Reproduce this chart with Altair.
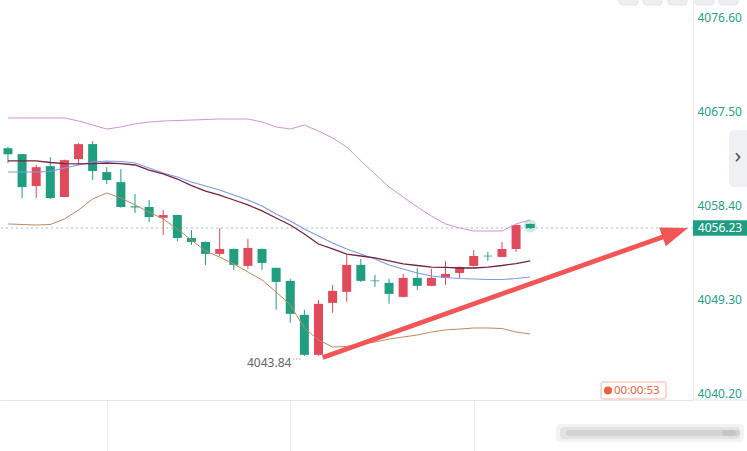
import altair as alt
import numpy as np
import pandas as pd

# ---- one-minute bars ----
opens = [4063.96, 4063.38, 4060.29, 4062.22, 4059.23, 4062.90, 4064.35, 4061.64, 4060.67, 4058.33,
         4058.26, 4057.22, 4057.49, 4055.26, 4054.88, 4053.72, 4054.20, 4052.56, 4054.20, 4052.37,
         4051.11, 4047.82, 4043.95, 4048.98, 4050.05, 4052.66, 4051.15, 4050.92, 4049.56, 4051.40,
         4050.63, 4051.40, 4051.88, 4052.56, 4053.55, 4053.43, 4054.20, 4056.62]
highs = [4064.10, 4063.40, 4062.32, 4063.09, 4062.85, 4064.44, 4064.64, 4062.12, 4061.93, 4059.52,
         4058.94, 4057.97, 4057.52, 4056.04, 4054.92, 4056.23, 4054.25, 4055.17, 4054.25, 4052.40,
         4051.30, 4048.31, 4049.27, 4050.72, 4053.62, 4053.23, 4051.69, 4051.30, 4051.79, 4052.37,
         4052.27, 4053.04, 4052.50, 4054.10, 4053.91, 4054.88, 4056.55, 4056.65]
lows = [4062.51, 4059.13, 4059.13, 4059.03, 4059.20, 4062.32, 4060.87, 4060.48, 4058.20, 4057.68,
        4056.81, 4055.55, 4054.97, 4054.59, 4052.66, 4053.52, 4052.17, 4052.27, 4052.17, 4048.31,
        4047.05, 4043.84, 4043.86, 4048.02, 4049.08, 4051.00, 4050.53, 4048.89, 4049.50, 4050.24,
        4050.60, 4050.72, 4051.40, 4052.50, 4053.04, 4053.40, 4053.91, 4056.13]
closes = [4063.38, 4060.19, 4062.12, 4059.13, 4062.80, 4064.35, 4061.74, 4060.87, 4058.26, 4058.22,
          4057.29, 4057.48, 4055.26, 4054.88, 4053.72, 4054.20, 4052.66, 4054.30, 4052.85, 4051.01,
          4047.92, 4043.95, 4048.89, 4050.14, 4052.66, 4051.11, 4051.08, 4049.85, 4051.40, 4050.63,
          4051.40, 4051.79, 4052.46, 4053.52, 4053.48, 4054.20, 4056.52, 4056.23]

# ---- indicator lines ----
band_upper = [4066.88, 4066.88, 4066.88, 4066.88, 4066.88, 4066.59, 4066.20, 4065.81, 4066.01, 4066.30,
              4066.49, 4066.59, 4066.64, 4066.68, 4066.73, 4066.78, 4066.78, 4066.78, 4066.49, 4066.01,
              4065.81, 4066.20, 4065.62, 4064.94, 4064.07, 4062.72, 4061.46, 4060.20, 4059.23, 4058.26,
              4057.39, 4056.62, 4056.23, 4055.94, 4055.94, 4055.94, 4056.62, 4057.00]
ma_blue = [4061.65, 4061.65, 4061.65, 4061.70, 4062.04, 4062.33, 4062.62, 4062.72, 4062.67, 4062.52,
           4062.04, 4061.55, 4061.17, 4060.68, 4060.30, 4059.91, 4059.42, 4058.94, 4058.36, 4057.59,
           4056.91, 4056.13, 4055.46, 4054.78, 4054.20, 4053.71, 4053.23, 4052.65, 4052.26, 4051.87,
           4051.58, 4051.44, 4051.34, 4051.29, 4051.24, 4051.24, 4051.34, 4051.49]
ma_maroon = [4062.72, 4062.72, 4062.72, 4062.57, 4062.47, 4062.43, 4062.47, 4062.52, 4062.47, 4062.33,
             4061.84, 4061.46, 4060.97, 4060.34, 4059.81, 4059.42, 4058.94, 4058.46, 4057.88, 4057.20,
             4056.52, 4055.65, 4054.68, 4054.20, 4053.71, 4053.52, 4053.33, 4053.04, 4052.75, 4052.60,
             4052.45, 4052.41, 4052.36, 4052.36, 4052.45, 4052.60, 4052.79, 4053.04]
band_lower = [4056.62, 4056.57, 4056.52, 4056.57, 4057.10, 4057.97, 4059.04, 4059.62, 4059.13, 4058.46,
              4057.78, 4057.10, 4056.13, 4055.07, 4054.00, 4053.42, 4052.75, 4051.97, 4051.20, 4050.03,
              4048.78, 4046.55, 4045.39, 4044.71, 4044.76, 4045.00, 4045.19, 4045.48, 4045.68, 4045.87,
              4046.16, 4046.36, 4046.45, 4046.55, 4046.55, 4046.50, 4046.16, 4045.97]

price_ticks = [4040.20, 4049.30, 4058.40, 4067.50, 4076.60]
time_ticks = [7, 20, 33]
arrow_start = (22.3, 4043.70)
arrow_tip = (48.18, 4056.23)
timer_text = "00:00:53"

# ---- layout ----
PLOT_W, PLOT_H = 693, 400
X_DOM = [-0.21, 48.18]
Y_DOM = [4039.58, 4078.30]
UP, DOWN = "#e04a5b", "#1f9e80"
AXIS_TXT = "#27a086"
FONT = "Noto Sans"

xs = alt.Scale(domain=X_DOM, nice=False, zero=False)
ys = alt.Scale(domain=Y_DOM, nice=False, zero=False)
x_axis = alt.Axis(values=time_ticks, labels=False, title=None, grid=False, ticks=True,
                  tickSize=51, tickColor="#eeeeee", domainColor="#e6e6e6")
y_axis = alt.Axis(orient="right", values=price_ticks, format=".2f", title=None, grid=False,
                  ticks=False, labelColor=AXIS_TXT, labelFont=FONT, labelFontSize=12,
                  labelPadding=4, domainColor="#ebebeb")


def X(field):
    return alt.X(field, type="quantitative", scale=xs, axis=x_axis)


def Y(field):
    return alt.Y(field, type="quantitative", scale=ys, axis=y_axis)


bars = pd.DataFrame({"i": np.arange(len(opens)), "open": opens, "high": highs,
                     "low": lows, "close": closes})
bars["dir"] = np.where(bars["close"] > bars["open"], "up", "down")
color = alt.Color("dir:N", scale=alt.Scale(domain=["up", "down"], range=[UP, DOWN]), legend=None)

wicks = alt.Chart(bars).mark_rule(strokeWidth=1, clip=True).encode(
    x=X("i"), y=Y("low"), y2="high", color=color)
bodies = alt.Chart(bars).mark_bar(size=9, clip=True).encode(
    x=X("i"), y=Y("open"), y2="close", color=color)

# glow around the live bar
last = bars.tail(1).assign(mid=lambda d: (d["open"] + d["close"]) / 2)
glow = alt.Chart(last).mark_point(filled=True, size=170, opacity=0.22, color=DOWN).encode(
    x=X("i"), y=Y("mid"))

line_specs = [(band_upper, "#d68fd8", 1.0), (ma_blue, "#7f98e8", 1.1),
              (ma_maroon, "#74243f", 1.3), (band_lower, "#c3875c", 1.0)]
lines = []
for vals, col, sw in line_specs:
    d = pd.DataFrame({"i": np.arange(len(vals)), "v": vals})
    lines.append(alt.Chart(d).mark_line(color=col, strokeWidth=sw, clip=True).encode(
        x=X("i"), y=Y("v")))

# current price
cur = closes[-1]
cur_df = pd.DataFrame({"p": [cur], "hi": [cur + 0.75], "lo": [cur - 0.75],
                       "label": [f"{cur:.2f}"]})
cur_line = alt.Chart(cur_df).mark_rule(strokeDash=[2, 3], color="#8ccdbd", strokeWidth=1).encode(
    y=Y("p"))
badge = alt.Chart(cur_df).mark_rect(color="#1f9d83").encode(
    x=alt.value(693), x2=alt.value(747), y=Y("hi"), y2="lo")
badge_txt = alt.Chart(cur_df).mark_text(color="white", font=FONT, fontSize=12, align="center",
                                        baseline="middle").encode(
    x=alt.value(720), y=Y("p"), text="label:N")

# session low marker
lo_i = int(np.argmin(lows))
low_df = pd.DataFrame({"i": [lo_i], "low": [lows[lo_i]], "label": [f"{lows[lo_i]:.2f}"]})
low_txt = alt.Chart(low_df).mark_text(align="right", baseline="middle", dx=-13, dy=7,
                                      color="#666666", font=FONT, fontSize=12).encode(
    x=X("i"), y=Y("low"), text="label:N")
low_dots = alt.Chart(low_df).mark_rule(xOffset=-11, x2Offset=-4, yOffset=3, strokeDash=[1, 2],
                                       color="#777777", strokeWidth=1).encode(
    x=X("i"), x2="i", y=Y("low"))

# red arrow toward the current price
px_per_i = PLOT_W / (X_DOM[1] - X_DOM[0])
px_per_p = PLOT_H / (Y_DOM[1] - Y_DOM[0])
dx = (arrow_tip[0] - arrow_start[0]) * px_per_i
dy = (arrow_tip[1] - arrow_start[1]) * px_per_p
ln = np.hypot(dx, dy)
head_len = 27
end_i = arrow_tip[0] - (head_len - 6) * dx / ln / px_per_i
end_p = arrow_tip[1] - (head_len - 6) * dy / ln / px_per_p
arrow_df = pd.DataFrame({"i": [arrow_start[0], end_i], "p": [arrow_start[1], end_p]})
arrow_line = alt.Chart(arrow_df).mark_line(color="#f25555", strokeWidth=4.8, strokeCap="butt").encode(
    x=X("i"), y=Y("p"))
angle = float((360 - np.degrees(np.arctan2(dy, dx))) % 360)
tip_df = pd.DataFrame({"i": [arrow_tip[0]], "p": [arrow_tip[1]]})
arrow_head = alt.Chart(tip_df).mark_point(shape="M0,0 L-2,-0.74 L-2,0.74 Z", filled=True,
                                          size=head_len ** 2, angle=angle, color="#f25555",
                                          opacity=1, strokeWidth=0).encode(
    x=X("i"), y=Y("p"))

# countdown chip
one = pd.DataFrame({"t": [timer_text]})
timer_box = alt.Chart(one).mark_rect(fill="white", stroke="#f5b3a6", strokeWidth=1,
                                     cornerRadius=2).encode(
    x=alt.value(601), x2=alt.value(666), y=alt.value(382), y2=alt.value(399))
timer_icon = alt.Chart(one).mark_point(shape="circle", filled=True, size=64, color="#f0603c",
                                       opacity=1).encode(x=alt.value(608), y=alt.value(390.5))
timer_txt = alt.Chart(one).mark_text(align="left", baseline="middle", color="#f0603c",
                                     font=FONT, fontSize=11.5).encode(
    x=alt.value(614), y=alt.value(391), text="t:N")

# chrome: bottom rule extension, toolbar buttons, side tab, faint watermark
bottom_ext = alt.Chart(one).mark_rule(color="#e6e6e6").encode(
    x=alt.value(693), x2=alt.value(747), y=alt.value(400))
chrome = [bottom_ext]
for bx in [619, 643, 668, 695, 719]:
    chrome.append(alt.Chart(one).mark_rect(fill="#eceef2", stroke="#e2e4e8", cornerRadius=3).encode(
        x=alt.value(bx), x2=alt.value(bx + 19), y=alt.value(-6), y2=alt.value(5)))
chrome.append(alt.Chart(one).mark_rect(fill="#eff0f3", cornerRadius=5).encode(
    x=alt.value(729), x2=alt.value(752), y=alt.value(130), y2=alt.value(187)))
chrome.append(alt.Chart(one).mark_text(text="›", color="#555555", font=FONT, fontSize=22,
                                       align="center", baseline="middle").encode(
    x=alt.value(738), y=alt.value(156)))
for x0, x1, y0, y1, op in [(556, 744, 424, 442, 0.12), (560, 740, 427, 439, 0.18),
                           (566, 736, 430, 436, 0.22), (722, 740, 430, 436, 0.25)]:
    chrome.append(alt.Chart(one).mark_rect(fill="#9a9a9a", opacity=op, cornerRadius=4).encode(
        x=alt.value(x0), x2=alt.value(x1), y=alt.value(y0), y2=alt.value(y1)))

chart = alt.layer(
    cur_line, wicks, bodies, glow, *lines, low_dots, low_txt,
    arrow_line, arrow_head, badge, badge_txt, timer_box, timer_icon, timer_txt, *chrome
).properties(
    width=PLOT_W, height=PLOT_H,
    padding={"left": 0, "top": 0, "right": 54, "bottom": 51},
    autosize=alt.AutoSizeParams(type="none"),
    background="white",
).configure_view(stroke=None)

chart.save("out.html", embed_options={"renderer": "svg", "actions": False})
